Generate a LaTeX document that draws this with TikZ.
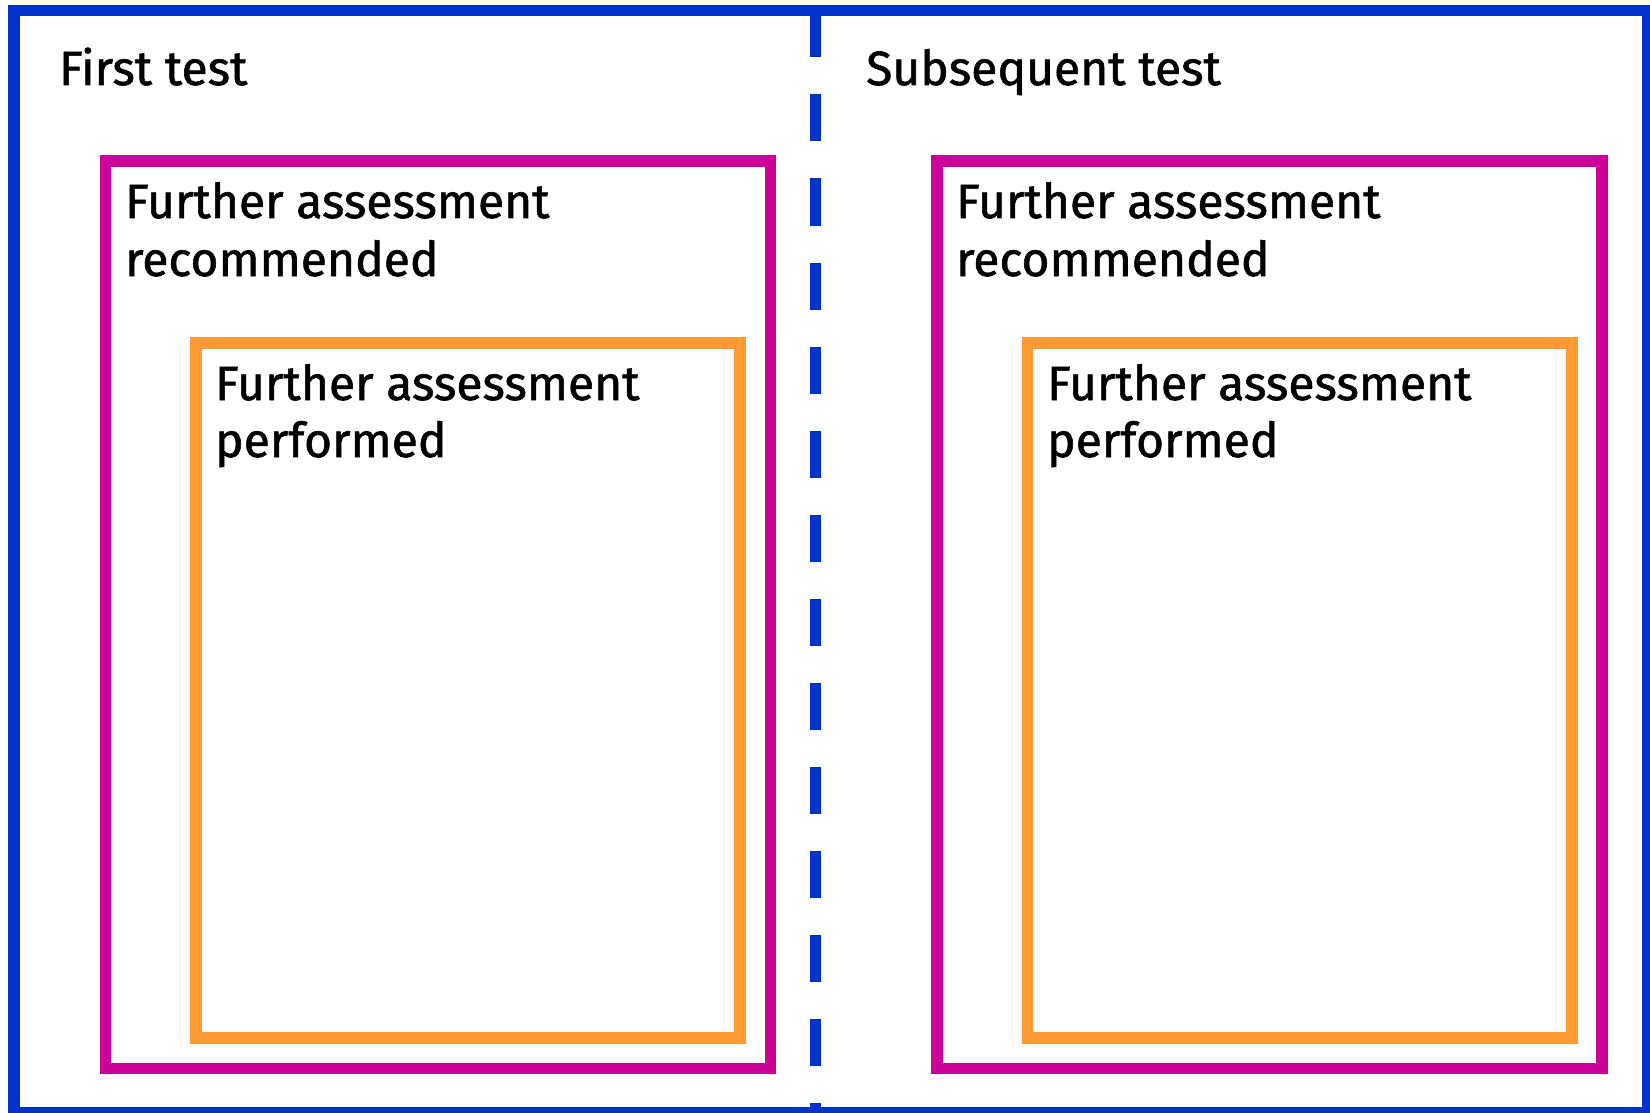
\documentclass[tikz,border=0pt]{standalone}
\usepackage{fontspec}
\setmainfont[FakeBold=1.2,AutoFakeBold=1.2]{Fira Sans}
\definecolor{frameblue}{RGB}{0,51,204}
\definecolor{recmag}{RGB}{204,0,153}
\definecolor{perforange}{RGB}{255,153,51}
\begin{document}
\begin{tikzpicture}[x=1pt,y=-1pt,
  outerframe/.style={draw=frameblue,line width=11.5pt},
  divider/.style={draw=frameblue,line width=11.5pt,dash pattern=on 47pt off 37pt},
  recbox/.style={draw=recmag,line width=11.5pt},
  perfbox/.style={draw=perforange,line width=11.5pt},
  lbl/.style={anchor=base west,inner sep=0pt,font=\fontsize{48}{57}\selectfont\bfseries}]
\useasboundingbox (0,0) rectangle (1650,1113);
\fill[white] (0,0) rectangle (1650,1113);
% outer frame
\draw[outerframe] (14,10.5) rectangle (1647.5,1112.5);
\coordinate (dtop) at (815.7,10.5);
\coordinate (dbot) at (815.7,1112.5);
\draw[divider] (dtop) -- (dbot);
% left panel
\draw[recbox] (105.5,161) rectangle (770.5,1068.5);
\draw[perfbox] (196,343) rectangle (740,1038);
% right panel
\draw[recbox] (937,161) rectangle (1602,1068.5);
\draw[perfbox] (1027.5,343) rectangle (1572,1038);
% labels
\node[lbl] (lt) at (59,85) {First test};
\node[lbl] (rt) at (866,85) {Subsequent test};
\node[lbl] (lr1) at (125,218) {Further assessment};
\node[lbl] (lr2) at (125,276) {recommended};
\node[lbl] (lp1) at (215,400) {Further assessment};
\node[lbl] (lp2) at (215,457) {performed};
\node[lbl] (rr1) at (956,218) {Further assessment};
\node[lbl] (rr2) at (956,276) {recommended};
\node[lbl] (rp1) at (1047,400) {Further assessment};
\node[lbl] (rp2) at (1047,457) {performed};
\end{tikzpicture}
\end{document}
